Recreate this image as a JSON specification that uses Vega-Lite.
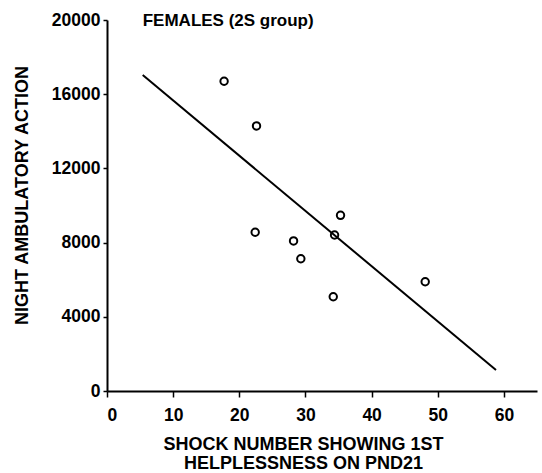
{
  "$schema": "https://vega.github.io/schema/vega-lite/v6.json",
  "autosize": "none",
  "width": 430,
  "height": 371,
  "padding": {"left": 107, "top": 20, "right": 5, "bottom": 82},
  "background": "white",
  "config": {
    "view": {"stroke": null},
    "font": "Liberation Sans",
    "axis": {
      "grid": false,
      "domainColor": "black",
      "domainWidth": 2,
      "tickColor": "black",
      "tickWidth": 1.5,
      "labelColor": "black",
      "labelFont": "Liberation Sans",
      "labelFontSize": 17.5,
      "labelFontWeight": "bold",
      "titleColor": "black",
      "titleFont": "Liberation Sans",
      "titleFontSize": 18,
      "titleFontWeight": "bold"
    }
  },
  "datasets": {
    "points": [
      {"shock": 17.7, "action": 16700},
      {"shock": 22.6, "action": 14290},
      {"shock": 22.4, "action": 8560},
      {"shock": 28.2, "action": 8090},
      {"shock": 29.3, "action": 7130},
      {"shock": 35.3, "action": 9470},
      {"shock": 34.4, "action": 8410},
      {"shock": 34.2, "action": 5080},
      {"shock": 48.1, "action": 5890}
    ],
    "fit": [
      {"shock": 5.4, "action": 17035},
      {"shock": 58.8, "action": 1130}
    ],
    "caption": [
      {"shock": 5.4, "action": 19700, "label": "FEMALES (2S group)"}
    ]
  },
  "layer": [
    {
      "data": {"name": "fit"},
      "mark": {"type": "line", "color": "black", "strokeWidth": 2},
      "encoding": {
        "x": {
          "field": "shock",
          "type": "quantitative",
          "scale": {"domain": [0, 65], "nice": false},
          "axis": {
            "title": ["SHOCK NUMBER SHOWING 1ST", "HELPLESSNESS ON PND21"],
            "values": [0, 5, 10, 15, 20, 25, 30, 35, 40, 45, 50, 55, 60, 65],
            "labelExpr": "datum.value % 10 === 0 ? datum.label : ''",
            "tickSize": {"condition": {"test": "datum.value % 10 === 0", "value": 6}, "value": 3},
            "labelPadding": 9,
            "titlePadding": 12,
            "titleLineHeight": 19,
            "titleX": 196
          }
        },
        "y": {
          "field": "action",
          "type": "quantitative",
          "scale": {"domain": [0, 20000], "nice": false},
          "axis": {
            "title": "NIGHT AMBULATORY ACTION",
            "values": [0, 2000, 4000, 6000, 8000, 10000, 12000, 14000, 16000, 18000, 20000],
            "labelExpr": "datum.value % 4000 === 0 ? datum.value : ''",
            "tickSize": {"condition": {"test": "datum.value % 4000 === 0", "value": 4}, "value": 2},
            "labelPadding": 3,
            "titlePadding": 20,
            "titleY": 175
          }
        }
      }
    },
    {
      "data": {"name": "points"},
      "mark": {"type": "point", "shape": "circle", "filled": false, "color": "black", "strokeWidth": 2, "size": 55, "opacity": 1},
      "encoding": {
        "x": {"field": "shock", "type": "quantitative"},
        "y": {"field": "action", "type": "quantitative"}
      }
    },
    {
      "data": {"name": "caption"},
      "mark": {"type": "text", "align": "left", "baseline": "alphabetic", "fontSize": 17, "fontWeight": "bold", "color": "black"},
      "encoding": {
        "x": {"field": "shock", "type": "quantitative"},
        "y": {"field": "action", "type": "quantitative"},
        "text": {"field": "label"}
      }
    }
  ]
}
